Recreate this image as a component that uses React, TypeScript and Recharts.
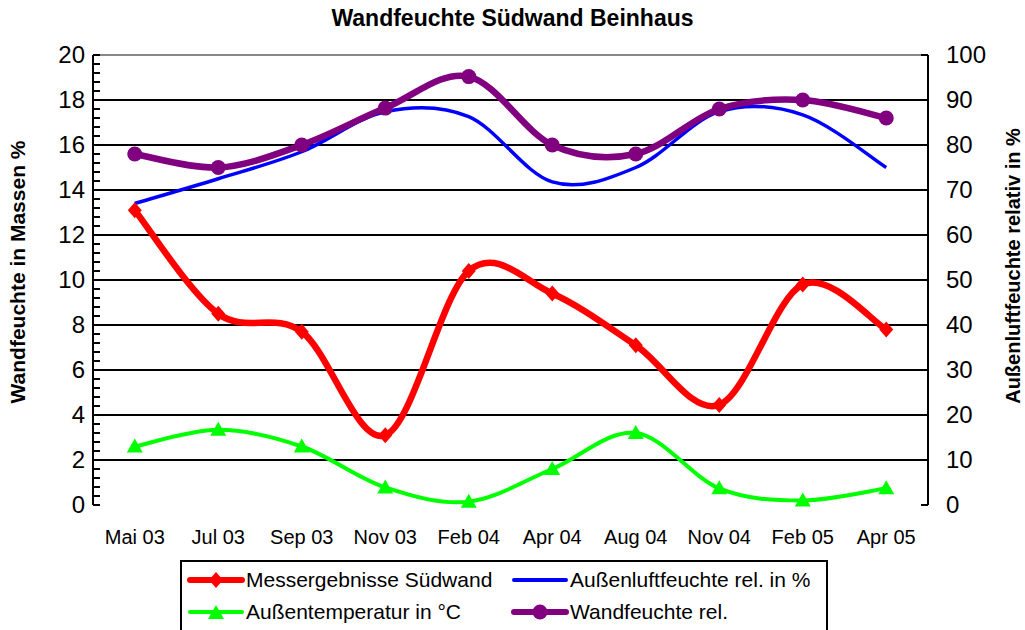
import React from 'react';
import { LineChart, Line, XAxis, YAxis, ReferenceLine } from 'recharts';

const categories = ['Mai 03', 'Jul 03', 'Sep 03', 'Nov 03', 'Feb 04', 'Apr 04', 'Aug 04', 'Nov 04', 'Feb 05', 'Apr 05'];
const messergebnisse = [13.1, 8.5, 7.7, 3.1, 10.4, 9.4, 7.1, 4.45, 9.8, 7.8];
const aussenluftfeuchte = [67, 72.5, 78.5, 87.4, 86.3, 71.8, 75, 87.4, 86.7, 75];
const aussentemperatur = [13, 16.7, 13, 3.9, 0.75, 8, 16, 3.7, 1, 3.7];
const wandfeuchteRel = [78, 75, 80, 88.2, 95.2, 80, 78, 88, 90, 86];

const leftMajorTicks = [0, 2, 4, 6, 8, 10, 12, 14, 16, 18, 20];
const leftMinorStep = 0.4;
const rightTicks = [0, 10, 20, 30, 40, 50, 60, 70, 80, 90, 100];
const categoryBoundaries = [0, 1, 2, 3, 4, 5, 6, 7, 8, 9, 10];
const categoryCenters = categories.map((_, i) => i + 0.5);

const leftTicks: number[] = [];
for (let i = 0; i <= Math.round(20 / leftMinorStep); i++) leftTicks.push(Math.round(i * leftMinorStep * 100) / 100);

const data = categories.map((c, i) => ({
  x: i + 0.5,
  name: c,
  mess: messergebnisse[i],
  luft: aussenluftfeuchte[i],
  temp: aussentemperatur[i],
  wand: wandfeuchteRel[i],
}));

// Excel-like smoothing (Catmull-Rom as cubic Bezier)
const excelCurve = (context: any) => {
  let pts: [number, number][] = [];
  return {
    areaStart() {},
    areaEnd() {},
    lineStart() { pts = []; },
    point(x: number, y: number) { pts.push([+x, +y]); },
    lineEnd() {
      const n = pts.length;
      if (!n) return;
      context.moveTo(pts[0][0], pts[0][1]);
      for (let i = 0; i < n - 1; i++) {
        const p0 = pts[i - 1] || pts[i];
        const p1 = pts[i];
        const p2 = pts[i + 1];
        const p3 = pts[i + 2] || p2;
        context.bezierCurveTo(
          p1[0] + (p2[0] - p0[0]) / 6, p1[1] + (p2[1] - p0[1]) / 6,
          p2[0] - (p3[0] - p1[0]) / 6, p2[1] - (p3[1] - p1[1]) / 6,
          p2[0], p2[1]
        );
      }
    },
  };
};

const FONT = '"Liberation Sans", Arial, sans-serif';

const Diamond = ({ cx, cy, color }: any) => (
  <path d={`M${cx},${cy - 8} L${cx + 7},${cy} L${cx},${cy + 8} L${cx - 7},${cy} Z`} fill={color} />
);
const Triangle = ({ cx, cy, color }: any) => (
  <path d={`M${cx},${cy - 8} L${cx + 8},${cy + 6} L${cx - 8},${cy + 6} Z`} fill={color} />
);
const Circle = ({ cx, cy, color }: any) => <circle cx={cx} cy={cy} r={7.5} fill={color} />;

const LeftTick = (props: any) => {
  const { x, y, payload } = props;
  const v = payload.value;
  const isMajor = leftMajorTicks.includes(v);
  return (
    <g>
      <line x1={x} x2={x + 7} y1={y} y2={y} stroke="#000" strokeWidth={2} />
      {isMajor && (
        <text x={x - 8} y={y} dy="0.35em" textAnchor="end" fontSize={24} fontFamily={FONT} fill="#000">
          {v}
        </text>
      )}
    </g>
  );
};

const RightTick = (props: any) => {
  const { x, y, payload } = props;
  return (
    <g>
      <line x1={x} x2={x - 7} y1={y} y2={y} stroke="#000" strokeWidth={2} />
      <text x={x + 18} y={y} dy="0.35em" textAnchor="start" fontSize={24} fontFamily={FONT} fill="#000">
        {payload.value}
      </text>
    </g>
  );
};

const BoundaryTick = (props: any) => {
  const { x, y } = props;
  return <line x1={x} x2={x} y1={y - 7} y2={y + 8} stroke="#000" strokeWidth={2} />;
};

const LabelTick = (props: any) => {
  const { x, y, payload } = props;
  const idx = Math.round(payload.value - 0.5);
  return (
    <text x={x} y={y} dy="0.35em" textAnchor="middle" fontSize={20} fontFamily={FONT} fill="#000">
      {categories[idx]}
    </text>
  );
};

const legendItems = [
  { label: 'Messergebnisse Südwand', color: '#FF0000', width: 6, marker: 'diamond' },
  { label: 'Außenluftfeuchte rel. in %', color: '#0000FF', width: 4, marker: 'none' },
  { label: 'Außentemperatur in °C', color: '#00FF00', width: 4, marker: 'triangle' },
  { label: 'Wandfeuchte rel.', color: '#800080', width: 6, marker: 'circle' },
];

const LegendSwatch = ({ item }: any) => (
  <svg width={58} height={20} style={{ display: 'block' }}>
    <line x1={3} x2={55} y1={10} y2={10} stroke={item.color} strokeWidth={item.width} strokeLinecap="round" />
    {item.marker === 'diamond' && <Diamond cx={29} cy={10} color={item.color} />}
    {item.marker === 'triangle' && <Triangle cx={29} cy={11} color={item.color} />}
    {item.marker === 'circle' && <Circle cx={29} cy={10} color={item.color} />}
  </svg>
);

export default function App() {
  return (
    <div style={{ position: 'absolute', left: 0, top: 0, width: 1025, height: 630, background: '#fff', overflow: 'hidden', fontFamily: FONT }}>
      <div style={{ position: 'absolute', left: 0, top: 5, width: 1025, textAlign: 'center', fontWeight: 'bold', fontSize: 23, fontFamily: FONT }}>
        Wandfeuchte Südwand Beinhaus
      </div>
      <LineChart width={1025} height={630} data={data} margin={{ top: 55, right: 37, bottom: 95, left: 33 }}>
        <XAxis xAxisId="b" dataKey="x" type="number" domain={[0, 10]} ticks={categoryBoundaries} interval={0}
          height={0} tickSize={0} tickMargin={0} tickLine={false} tick={<BoundaryTick />}
          axisLine={{ stroke: '#000', strokeWidth: 2 }} />
        <XAxis xAxisId="l" dataKey="x" type="number" domain={[0, 10]} ticks={categoryCenters} interval={0}
          height={30} tickSize={0} tickMargin={32} tickLine={false} axisLine={false} tick={<LabelTick />} />
        <YAxis yAxisId="left" domain={[0, 20]} ticks={leftTicks} interval={0} width={60} tickSize={0} tickMargin={0}
          tickLine={false} tick={<LeftTick />} axisLine={{ stroke: '#000', strokeWidth: 2 }} />
        <YAxis yAxisId="right" orientation="right" domain={[0, 100]} ticks={rightTicks} interval={0} width={60}
          tickSize={0} tickMargin={0} tickLine={false} tick={<RightTick />} axisLine={{ stroke: '#000', strokeWidth: 2 }} />
        {leftMajorTicks.filter((t) => t > 0 && t < 20).map((t) => (
          <ReferenceLine key={t} xAxisId="b" yAxisId="left" y={t} stroke="#000" strokeWidth={2} />
        ))}
        <ReferenceLine xAxisId="b" yAxisId="left" y={20} stroke="#888" strokeWidth={2} />
        <Line xAxisId="b" yAxisId="left" dataKey="mess" type={excelCurve as any} stroke="#FF0000" strokeWidth={6.5}
          isAnimationActive={false} dot={(p: any) => <Diamond key={p.index} cx={p.cx} cy={p.cy} color="#FF0000" />} />
        <Line xAxisId="b" yAxisId="right" dataKey="luft" type={excelCurve as any} stroke="#0000FF" strokeWidth={3.5}
          isAnimationActive={false} dot={false} />
        <Line xAxisId="b" yAxisId="right" dataKey="temp" type={excelCurve as any} stroke="#00FF00" strokeWidth={4}
          isAnimationActive={false} dot={(p: any) => <Triangle key={p.index} cx={p.cx} cy={p.cy} color="#00FF00" />} />
        <Line xAxisId="b" yAxisId="right" dataKey="wand" type={excelCurve as any} stroke="#800080" strokeWidth={6.5}
          isAnimationActive={false} dot={(p: any) => <Circle key={p.index} cx={p.cx} cy={p.cy} color="#800080" />} />
      </LineChart>
      <div style={{ position: 'absolute', left: 18, top: 272, transform: 'translate(-50%, -50%) rotate(-90deg)', whiteSpace: 'nowrap', fontWeight: 'bold', fontSize: 21, fontFamily: FONT }}>
        Wandfeuchte in Massen %
      </div>
      <div style={{ position: 'absolute', left: 1013, top: 266, transform: 'translate(-50%, -50%) rotate(-90deg)', whiteSpace: 'nowrap', fontWeight: 'bold', fontSize: 20, fontFamily: FONT }}>
        Außenluftfeuchte relativ in %
      </div>
      <div style={{ position: 'absolute', left: 180, top: 560, width: 648, height: 90, border: '2px solid #000', background: '#fff', boxSizing: 'border-box' }}>
        {legendItems.map((item, i) => (
          <div key={item.label} style={{ position: 'absolute', left: i % 2 === 0 ? 5 : 329, top: i < 2 ? 6 : 38, display: 'flex', alignItems: 'center', whiteSpace: 'nowrap', fontSize: 21, fontFamily: FONT }}>
            <LegendSwatch item={item} />
            <span style={{ marginLeft: 1 }}>{item.label}</span>
          </div>
        ))}
      </div>
    </div>
  );
}
